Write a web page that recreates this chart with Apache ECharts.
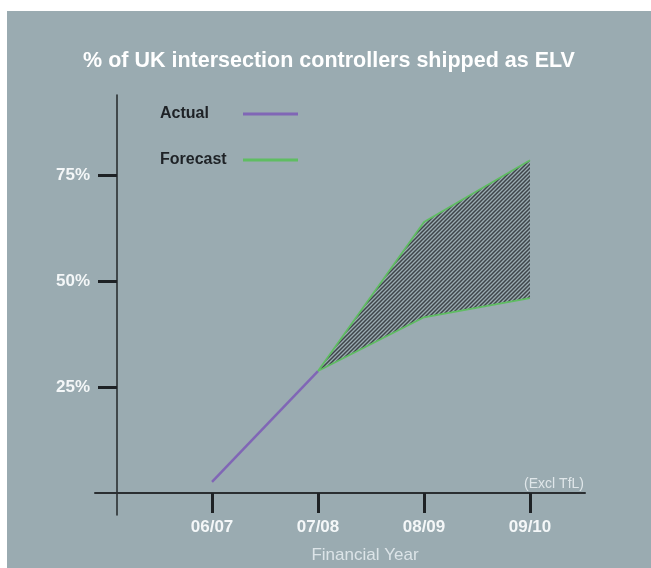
<!DOCTYPE html>
<html>
<head>
<meta charset="utf-8">
<script src="https://cdn.jsdelivr.net/npm/echarts@6/dist/echarts.min.js"></script>
<style>
  html, body { margin: 0; padding: 0; background: #ffffff; }
  #chart { position: absolute; left: 7px; top: 11px; width: 644px; height: 557px; }
</style>
</head>
<body>
<div id="chart"></div>
<script>
// ---- data ----
const categories = ['06/07', '07/08', '08/09', '09/10'];
const actualCats = ['06/07', '07/08'];
const actualValues = [2.6, 28.8];
const forecastCats = ['07/08', '08/09', '09/10'];
const forecastLow = [28.8, 41.5, 46.0];
const forecastHigh = [28.8, 64.0, 78.6];
const yTickValues = [25, 50, 75];
const title = '% of UK intersection controllers shipped as ELV';
const note = '(Excl TfL)';
const xName = 'Financial Year';

const pos = c => categories.indexOf(c) + 1;

function hatchPattern() {
  const c = document.createElement('canvas');
  c.width = 4; c.height = 4;
  const g = c.getContext('2d');
  g.strokeStyle = '#3f454a';
  g.lineWidth = 1.5;
  g.beginPath();
  g.moveTo(0, 4); g.lineTo(4, 0);
  g.moveTo(-1, 1); g.lineTo(1, -1);
  g.moveTo(3, 5); g.lineTo(5, 3);
  g.stroke();
  return c;
}
const hatch = hatchPattern();

const chart = echarts.init(document.getElementById('chart'));
const font = 'Liberation Sans, Arial, sans-serif';

chart.setOption({
  backgroundColor: '#9aabb1',
  animation: false,
  textStyle: { fontFamily: font },
  title: [
    { text: title, left: 'center', top: 34,
      textStyle: { color: '#ffffff', fontSize: 21.5, fontWeight: 'bold', fontFamily: font } },
    { text: note, right: 62, top: 461,
      textStyle: { color: '#dfe6e9', fontSize: 14, fontWeight: 'normal', fontFamily: font } }
  ],
  legend: {
    orient: 'vertical', left: 148, top: 90, itemGap: 30, align: 'right',
    icon: 'rect', itemWidth: 55, itemHeight: 3,
    data: ['Actual', 'Forecast'],
    formatter: n => '{a|' + n + '}',
    textStyle: { color: '#1e2226', fontSize: 16, fontWeight: 'bold', fontFamily: font,
      rich: { a: { width: 78, align: 'left', color: '#1e2226', fontSize: 16, fontWeight: 'bold', fontFamily: font } } }
  },
  grid: { left: 88, right: 66, top: 84, bottom: 53, containLabel: false, outerBoundsMode: 'none' },
  xAxis: {
    type: 'value', min: -0.104, max: 4.519,
    axisLine: { onZero: true, lineStyle: { color: '#2a2e31', width: 2 } },
    axisTick: { customValues: categories.map((c, i) => i + 1), length: 20, lineStyle: { color: '#1e2225', width: 3 } },
    axisLabel: { customValues: categories.map((c, i) => i + 1), margin: 4,
      formatter: v => categories[Math.round(v) - 1] || '',
      color: '#f4f7f8', fontSize: 17, fontWeight: 'bold', fontFamily: font },
    splitLine: { show: false },
    name: xName, nameLocation: 'middle', nameGap: 32,
    nameTextStyle: { color: '#dce4e8', fontSize: 17, fontFamily: font, padding: [0, 0, 0, 50] }
  },
  yAxis: {
    type: 'value', min: -5.2, max: 94, offset: -22,
    axisLine: { show: true, onZero: false, lineStyle: { color: '#22272a', width: 1.5 } },
    axisTick: { show: true, customValues: yTickValues, length: 19, lineStyle: { color: '#1e2225', width: 3 } },
    axisLabel: { customValues: yTickValues, margin: 27, formatter: v => v + '%',
      color: '#f4f7f8', fontSize: 17, fontWeight: 'bold', fontFamily: font },
    splitLine: { show: false }
  },
  series: [
    { name: 'band', type: 'custom', data: [0], z: 3, silent: true,
      renderItem: function (params, api) {
        const upper = forecastCats.map((c, i) => api.coord([pos(c), forecastHigh[i]]));
        const lower = forecastCats.map((c, i) => api.coord([pos(c), forecastLow[i]])).reverse();
        return { type: 'polygon', shape: { points: upper.concat(lower) },
          style: { fill: { image: hatch, repeat: 'repeat' } } };
      } },
    { name: 'Actual', type: 'line', symbol: 'none',
      data: actualCats.map((c, i) => [pos(c), actualValues[i]]),
      itemStyle: { color: '#8066b6' },
      lineStyle: { color: '#8066b6', width: 2.5 }, z: 4 },
    { name: 'Forecast', type: 'line', symbol: 'none',
      data: forecastCats.map((c, i) => [pos(c), forecastLow[i]]),
      itemStyle: { color: '#5fbd62' },
      lineStyle: { color: '#5fbd62', width: 1.8 }, z: 5 },
    { name: 'Forecast', type: 'line', symbol: 'none',
      data: forecastCats.map((c, i) => [pos(c), forecastHigh[i]]),
      itemStyle: { color: '#5fbd62' },
      lineStyle: { color: '#5fbd62', width: 1.8 }, z: 5 }
  ]
});
</script>
</body>
</html>
